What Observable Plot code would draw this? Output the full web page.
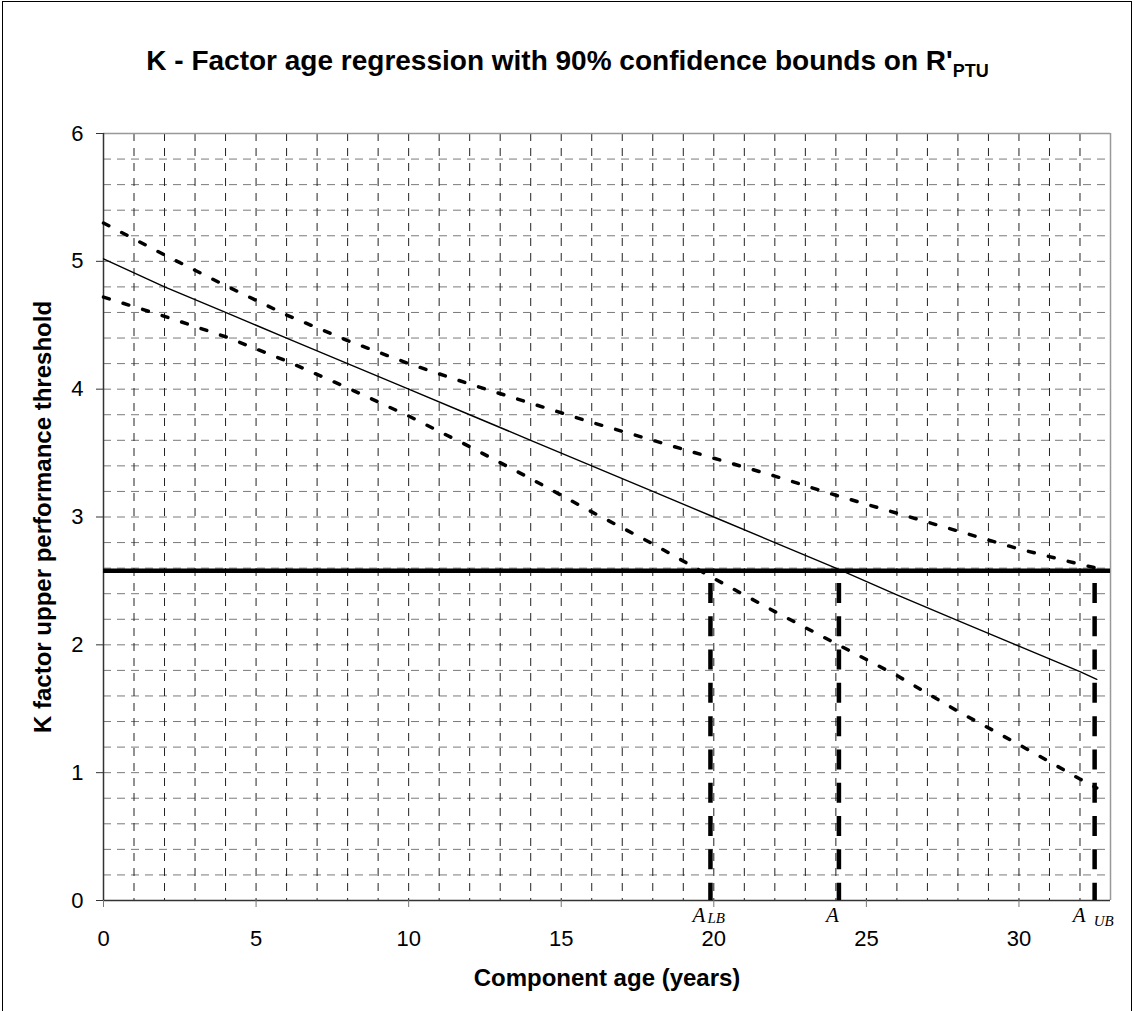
<!DOCTYPE html>
<html>
<head>
<meta charset="utf-8">
<script src="https://cdn.jsdelivr.net/npm/d3@7"></script>
<script src="https://cdn.jsdelivr.net/npm/@observablehq/plot@0.6"></script>
<style>
  html, body { margin: 0; padding: 0; background: #fff; }
  #wrap { position: relative; width: 1135px; height: 1011px; overflow: hidden; background: #fff; }
  #border { position: absolute; left: 2px; top: 1px; width: 1130px; height: 1030px; border: 1.5px solid #000; box-sizing: border-box; }
  #title { position: absolute; top: 45px; left: 0; width: 1135px; text-align: center;
           font: bold 28px "Liberation Sans", Arial, sans-serif; color: #000; white-space: nowrap; }
  #title sub { font-size: 18px; vertical-align: -7px; line-height: 0; }
  #chart { position: absolute; left: 0; top: 0; }
</style>
</head>
<body>
<div id="wrap">
  <div id="border"></div>
  <div id="title">K - Factor age regression with 90% confidence bounds on R'<sub>PTU</sub></div>
  <div id="chart"></div>
</div>
<script>
// ---- data ----
const ages  = [0, 2, 4, 6, 8, 10, 12, 14, 16, 18, 20, 22, 24, 26, 28, 30, 32, 32.55];
const fitK  = [5.02, 4.80, 4.60, 4.40, 4.20, 4.00, 3.80, 3.60, 3.40, 3.20, 3.00, 2.80, 2.60, 2.39, 2.19, 1.99, 1.79, 1.73];
const upperK = [5.30, 5.05, 4.81, 4.58, 4.38, 4.20, 4.04, 3.89, 3.74, 3.60, 3.46, 3.32, 3.17, 3.03, 2.89, 2.75, 2.63, 2.60];
const lowerK = [4.72, 4.57, 4.41, 4.22, 4.01, 3.79, 3.55, 3.30, 3.04, 2.79, 2.52, 2.26, 2.01, 1.76, 1.48, 1.22, 0.95, 0.88];
const threshold = 2.58;
const crossAges = [19.89, 24.1, 32.48];     // A_LB, A, A_UB
const crossTop = 2.48;                      // where the drop lines start
const crossMain = ["A", "A", "A"];
const crossSub  = ["LB", "", "UB"];
const xTicks = [0, 5, 10, 15, 20, 25, 30];
const yTicks = [0, 1, 2, 3, 4, 5, 6];
const xGrid = d3.range(0, 34, 1);
const yGrid = d3.range(0, 31).map(i => +(i * 0.2).toFixed(1));
const xLabel = "Component age (years)";
const yLabel = "K factor upper performance threshold";

const series = (vals) => ages.map((a, i) => ({age: a, k: vals[i]}));
const cross = crossAges.map((a, i) => ({age: a, top: crossTop, bottom: 0, main: crossMain[i], sub: crossSub[i]}));
const serif = "'Liberation Serif', 'Times New Roman', serif";

const chart = Plot.plot({
  width: 1135, height: 1011,
  marginLeft: 103, marginRight: 25, marginTop: 133, marginBottom: 111,
  x: {domain: [0, 33]},
  y: {domain: [0, 6]},
  style: {fontFamily: "'Liberation Sans', Arial, sans-serif", fontSize: "22px", background: "none", color: "#000", overflow: "visible"},
  marks: [
    Plot.gridY(yGrid, {stroke: "#7a7a7a", strokeOpacity: 1, strokeDasharray: "8,6"}),
    Plot.gridX(xGrid, {stroke: "#222", strokeOpacity: 1, strokeDasharray: "8,7"}),
    Plot.ruleY([6], {stroke: "#999", strokeWidth: 1.5}),
    Plot.ruleX([33], {stroke: "#999", strokeWidth: 1.5}),
    Plot.ruleX([0], {stroke: "#333", strokeWidth: 1.5}),
    Plot.ruleY([0], {stroke: "#333", strokeWidth: 1.5}),
    Plot.axisY(yTicks, {tickSize: 7, tickPadding: 13, label: null, stroke: "#333", fontSize: 22, tickFormat: d3.format("d")}),
    Plot.axisX(xTicks, {tickSize: 7, tickPadding: 23, label: null, stroke: "#777", fontSize: 22, tickFormat: d3.format("d")}),
    Plot.line(series(fitK), {x: "age", y: "k", stroke: "#000", strokeWidth: 1.4}),
    Plot.line(series(upperK), {x: "age", y: "k", stroke: "#000", strokeWidth: 3.5, strokeDasharray: "6,14.5"}),
    Plot.line(series(lowerK), {x: "age", y: "k", stroke: "#000", strokeWidth: 3.5, strokeDasharray: "6,14.5"}),
    Plot.ruleY([threshold], {stroke: "#000", strokeWidth: 4.5}),
    Plot.ruleX(cross, {x: "age", y1: "top", y2: "bottom", stroke: "#000", strokeWidth: 4.5, strokeDasharray: "20,13.3"}),
    // A labels
    Plot.text(cross.filter(d => d.sub === "LB"), {x: "age", y: "bottom", text: "main", textAnchor: "end", lineAnchor: "bottom", dx: -5, dy: 21, fontFamily: serif, fontStyle: "italic", fontSize: 21}),
    Plot.text(cross.filter(d => d.sub === "LB"), {x: "age", y: "bottom", text: "sub", textAnchor: "start", lineAnchor: "bottom", dx: -3, dy: 22, fontFamily: serif, fontStyle: "italic", fontSize: 15}),
    Plot.text(cross.filter(d => d.sub === ""), {x: "age", y: "bottom", text: "main", textAnchor: "end", lineAnchor: "bottom", dx: 0, dy: 21, fontFamily: serif, fontStyle: "italic", fontSize: 21}),
    Plot.text(cross.filter(d => d.sub === "UB"), {x: "age", y: "bottom", text: "main", textAnchor: "end", lineAnchor: "bottom", dx: -9, dy: 21, fontFamily: serif, fontStyle: "italic", fontSize: 21}),
    Plot.text(cross.filter(d => d.sub === "UB"), {x: "age", y: "bottom", text: "sub", textAnchor: "start", lineAnchor: "bottom", dx: -1, dy: 25, fontFamily: serif, fontStyle: "italic", fontSize: 15}),
    // axis titles
    Plot.text([yLabel], {frameAnchor: "left", dx: -60, rotate: -90, textAnchor: "middle", lineAnchor: "middle", fontWeight: "bold", fontSize: 24}),
    Plot.text([xLabel], {frameAnchor: "bottom", dy: 78, textAnchor: "middle", lineAnchor: "middle", fontWeight: "bold", fontSize: 24})
  ]
});
document.getElementById("chart").appendChild(chart);
</script>
</body>
</html>
